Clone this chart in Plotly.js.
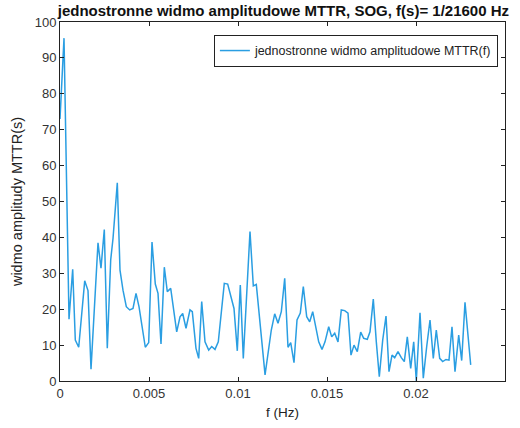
<!DOCTYPE html>
<html>
<head>
<meta charset="utf-8">
<script src="https://cdn.plot.ly/plotly-3.0.1.min.js"></script>
<style>html,body{margin:0;padding:0;background:#fff;}#chart{width:520px;height:428px;}</style>
</head>
<body>
<div id="chart"></div>
<script>
const freqHz = [0, 0.000225, 0.000506, 0.000713, 0.000860, 0.001051, 0.001388, 0.001573, 0.001742, 0.002135,
  0.002303, 0.002489, 0.002657, 0.002848, 0.002978, 0.003219, 0.003371, 0.003539, 0.003725, 0.003916,
  0.004101, 0.004270, 0.004438, 0.004792, 0.004983, 0.005169, 0.005354, 0.005506, 0.005674, 0.005860,
  0.006028, 0.006219, 0.006556, 0.006742, 0.006893, 0.007079, 0.007303, 0.007433, 0.007640, 0.007792,
  0.007961, 0.008146, 0.008354, 0.008522, 0.008708, 0.008893, 0.009230, 0.009421, 0.009775, 0.009961,
  0.010129, 0.010298, 0.010674, 0.010860, 0.011028, 0.011520, 0.011871, 0.012062, 0.012247, 0.012433,
  0.012624, 0.012809, 0.012961, 0.013146, 0.013315, 0.013500, 0.013669, 0.013860, 0.014028, 0.014197,
  0.014534, 0.014719, 0.014888, 0.015096, 0.015264, 0.015433, 0.015618, 0.015803, 0.015994, 0.016180,
  0.016348, 0.016517, 0.016702, 0.016893, 0.017062, 0.017264, 0.017416, 0.017601, 0.017770, 0.017938,
  0.018129, 0.018315, 0.018483, 0.018652, 0.018803, 0.018989, 0.019174, 0.019343, 0.019511, 0.019702,
  0.019871, 0.020017, 0.020225, 0.020410, 0.020601, 0.020787, 0.020972, 0.021140, 0.021331, 0.021500,
  0.021685, 0.021854, 0.022022, 0.022191, 0.022399, 0.022567, 0.022753, 0.023073];
const amplitude = [73, 95.5, 17.2, 31.1, 11.4, 9.4, 27.9, 25.2, 3.3, 38.5,
  31.4, 42.2, 9.1, 33.7, 39.7, 55.2, 30.9, 25.3, 20.7, 19.8,
  20.2, 24.4, 20.7, 9.4, 10.7, 38.7, 27.0, 24.4, 10.3, 31.7,
  24.9, 25.8, 13.7, 17.9, 18.8, 14.7, 19.8, 19.3, 9.1, 6.3,
  22.1, 10.9, 8.6, 9.6, 8.8, 10.9, 27.2, 27.0, 20.2, 8.4,
  26.7, 6.3, 41.6, 26.5, 26.9, 1.7, 14.2, 18.7, 16.1, 19.3,
  28.6, 9.4, 10.7, 5.1, 17.0, 18.9, 26.3, 17.9, 16.5, 19.3,
  10.9, 8.8, 10.9, 15.1, 12.3, 13.3, 10.9, 19.8, 19.6, 18.9,
  7.2, 10.0, 8.2, 13.6, 11.9, 11.6, 13.7, 22.8, 10.9, 1.2,
  11.4, 18.1, 2.6, 7.2, 6.5, 8.2, 6.5, 5.4, 12.3, 3.5,
  10.9, 0.0, 19.0, 0.8, 9.6, 17.0, 6.3, 14.2, 6.3, 5.4,
  6.0, 5.8, 15.1, 2.6, 12.8, 5.7, 21.9, 4.5];
const seriesName = 'jednostronne widmo amplitudowe MTTR(f)';
const chartTitle = 'jednostronne widmo amplitudowe MTTR, SOG, f(s)= 1/21600 Hz';
const xLabel = 'f (Hz)';
const yLabel = 'widmo amplitudy MTTR(s)';

const trace = {
  x: freqHz, y: amplitude, type: 'scatter', mode: 'lines', name: seriesName,
  line: {color: '#2a9ee2', width: 1.5}
};
const axisCommon = {
  showline: true, linecolor: '#222', linewidth: 1, mirror: 'ticks', ticks: 'inside',
  ticklen: 4, tickcolor: '#222', showgrid: false, zeroline: false,
  tickfont: {family: 'Liberation Sans, Arial, sans-serif', size: 13, color: '#333'}
};
const layout = {
  width: 520, height: 428,
  margin: {l: 60, r: 15, t: 22, b: 47},
  paper_bgcolor: '#fff', plot_bgcolor: '#fff',
  font: {family: 'Liberation Sans, Arial, sans-serif', color: '#222'},
  title: {text: '<b>' + chartTitle + '</b>', x: 0.545, xanchor: 'center', y: 0.988, yanchor: 'top',
    font: {size: 15, color: '#111'}},
  xaxis: Object.assign({}, axisCommon, {range: [0, 0.025], dtick: 0.005, tick0: 0,
    title: {text: xLabel, standoff: 7, font: {size: 13.5, color: '#222'}}}),
  yaxis: Object.assign({}, axisCommon, {range: [0, 100], dtick: 10, tick0: 0,
    title: {text: yLabel, standoff: 8, font: {size: 14.5, color: '#222'}}}),
  showlegend: true,
  legend: {x: 0.984, y: 0.964, xanchor: 'right', yanchor: 'top', bgcolor: '#fff',
    bordercolor: '#222', borderwidth: 1, font: {size: 12.5, color: '#222'}}
};
Plotly.newPlot('chart', [trace], layout, {displayModeBar: false, staticPlot: true});
</script>
</body>
</html>
